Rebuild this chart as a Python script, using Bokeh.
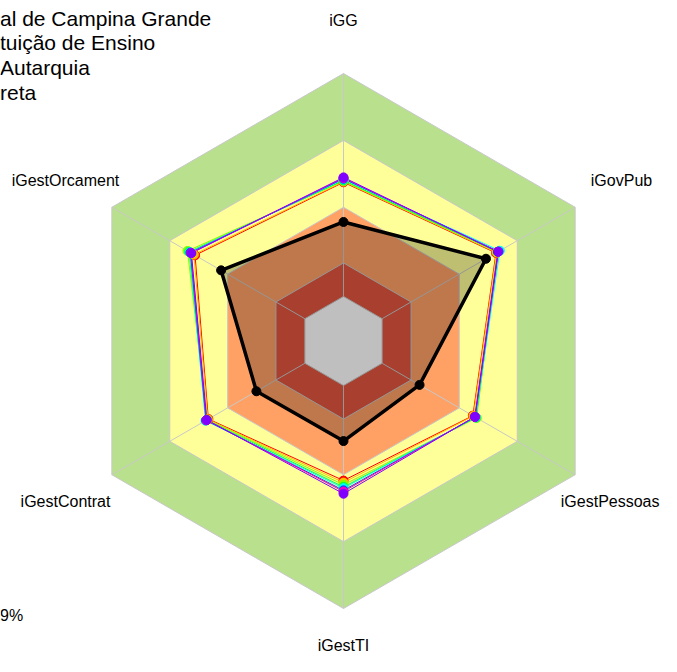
import math
from bokeh.plotting import figure
from bokeh.models import Range1d
from bokeh.core.properties import value
from bokeh.embed import file_html
from bokeh.resources import INLINE

# ---- data ----
axes_labels = ["iGG", "iGovPub", "iGestPessoas", "iGestTI", "iGestContrat", "iGestOrcament"]
axes_angles = [90, 30, -30, -90, -150, 150]

band_limits = [1.0, 0.7, 0.4, 0.15, 0.0]
band_colors = ["#B9E08C", "#FFFF99", "#FFA065", "#E0553F", "#FFFFFF"]

black_values = [0.334, 0.538, 0.194, 0.249, 0.251, 0.434]

series_colors = ["#FF0000", "#FFBF00", "#80FF00", "#00FF40", "#00FFFF", "#0040FF", "#FF00BF", "#8000FF"]
series_values = [
    [0.512, 0.590, 0.470, 0.426, 0.500, 0.569],
    [0.515, 0.593, 0.473, 0.435, 0.503, 0.575],
    [0.518, 0.597, 0.490, 0.445, 0.506, 0.608],
    [0.521, 0.600, 0.487, 0.455, 0.510, 0.600],
    [0.525, 0.610, 0.484, 0.460, 0.515, 0.596],
    [0.528, 0.603, 0.482, 0.470, 0.512, 0.593],
    [0.531, 0.601, 0.481, 0.475, 0.510, 0.590],
    [0.534, 0.600, 0.480, 0.485, 0.508, 0.588],
]

title_lines = ["al de Campina Grande", "tuição de Ensino", "Autarquia", "reta"]
footer_text = "9%"

# ---- geometry helpers ----
R = 267.5


def rad(v):
    return R * (1 + 5 * v) / 6.0


def poly(vals):
    xs = [rad(v) * math.cos(math.radians(a)) for v, a in zip(vals, axes_angles)]
    ys = [rad(v) * math.sin(math.radians(a)) for v, a in zip(vals, axes_angles)]
    return xs, ys


p = figure(width=661, height=656, x_range=Range1d(-343, 318), y_range=Range1d(-315.5, 340.5),
           output_backend="svg", toolbar_location=None, min_border=0)
p.axis.visible = False
p.grid.visible = False
p.outline_line_color = None
p.background_fill_color = "white"
p.border_fill_color = "white"

# bands
for lim, col in zip(band_limits, band_colors):
    xs, ys = poly([lim] * 6)
    p.patch(xs, ys, fill_color=col, line_color=None)

# grid outlines
for lim in band_limits:
    xs, ys = poly([lim] * 6)
    p.patch(xs, ys, fill_color=None, line_color="#C8C8C8", line_width=1)
# spokes
for a in axes_angles:
    c, s = math.cos(math.radians(a)), math.sin(math.radians(a))
    p.line([rad(0) * c, rad(1) * c], [rad(0) * s, rad(1) * s], line_color="#C8C8C8", line_width=1)

# coloured series
for vals, col in zip(series_values, series_colors):
    xs, ys = poly(vals)
    p.patch(xs, ys, fill_color=None, line_color=col, line_width=1)
for vals, col in zip(series_values, series_colors):
    xs, ys = poly(vals)
    p.scatter(xs, ys, size=9, fill_color=col, line_color=col)

# black series
xs, ys = poly(black_values)
p.patch(xs, ys, fill_color="black", fill_alpha=0.25, line_color="black", line_width=3.5)
p.scatter(xs, ys, size=9, fill_color="black", line_color="black")

# axis labels
lx = [1.2 * R * math.cos(math.radians(a)) for a in axes_angles]
ly = [1.2 * R * math.sin(math.radians(a)) for a in axes_angles]
aligns = ["center", "center", "right", "center", "center", "center"]
lx[2] = 316.0
ly[3] = -304.0
for x, y, t, al in zip(lx, ly, axes_labels, aligns):
    p.text([x], [y], text=[t], text_align=al, text_baseline="middle",
           text_font=value("Liberation Sans"), text_font_size="16px", text_color="black")

# title lines (top-left)
p.text([-343.5] * 4, [322.5, 298.5, 273.5, 248.5], text=title_lines, text_align="left",
       text_baseline="alphabetic", text_font=value("Liberation Sans"), text_font_size="21px",
       text_color="black")

p.text([-343.5], [-274.5], text=[footer_text], text_align="left", text_baseline="alphabetic",
       text_font=value("Liberation Sans"), text_font_size="16px", text_color="black")

open("out.html", "w").write(file_html(p, INLINE))
